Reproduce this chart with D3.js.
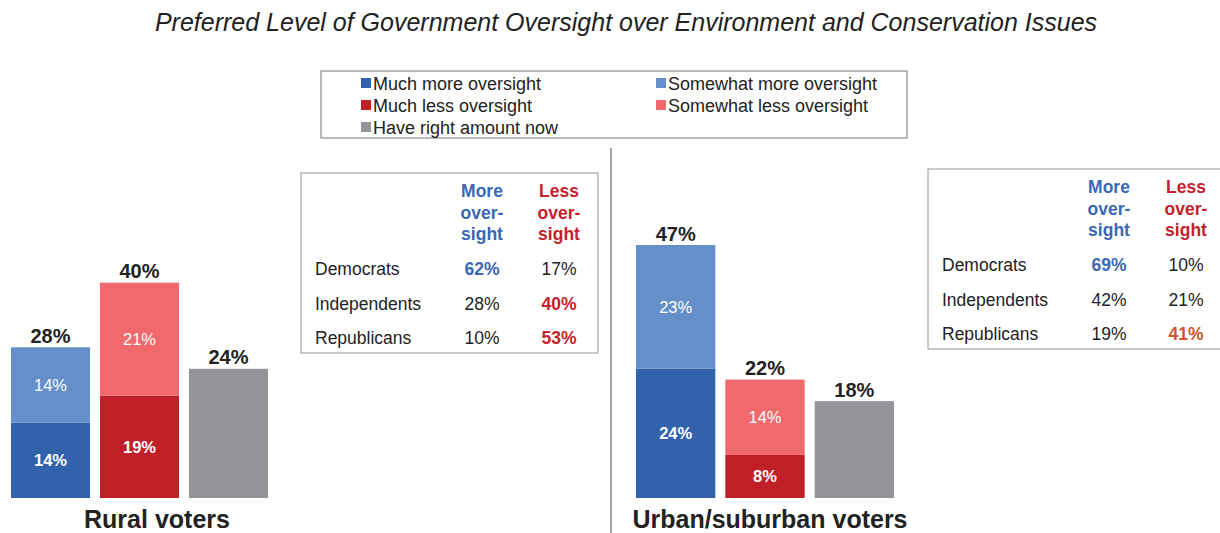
<!DOCTYPE html>
<html>
<head>
<meta charset="utf-8">
<script src="https://cdn.jsdelivr.net/npm/d3@7"></script>
<style>
  body { margin: 0; background: #fff; }
  svg { display: block; font-family: "Liberation Sans", Arial, sans-serif; }
</style>
</head>
<body>
<div class="chart-holder"></div>
<script>
// chart data
const groups = ["Rural voters", "Urban/suburban voters"];
const muchMore = [14, 24];
const someMore = [14, 23];
const muchLess = [19, 8];
const someLess = [21, 14];
const rightAmount = [24, 18];

const legendLabels = ["Much more oversight", "Somewhat more oversight", "Much less oversight",
  "Somewhat less oversight", "Have right amount now"];

const parties = ["Democrats", "Independents", "Republicans"];
const ruralMore = [62, 28, 10];
const ruralLess = [17, 40, 53];
const urbanMore = [69, 42, 19];
const urbanLess = [10, 21, 41];
// which cells are highlighted: "b" blue, "r" red, "o" orange
const ruralMark = [["b", ""], ["", "r"], ["", "r"]];
const urbanMark = [["b", ""], ["", ""], ["", "o"]];

function controller() {
  const width = 1220;
  const height = 533;

  const colors = {
    muchMore: "#3362ad",
    someMore: "#658fc8",
    muchLess: "#c01f27",
    someLess: "#f1696c",
    right: "#939598"
  };
  const legendColors = [colors.muchMore, colors.someMore, colors.muchLess, colors.someLess, colors.right];
  const markColor = { b: "#3a68b5", r: "#c4222c", o: "#d0532c" };

  const svg = d3.select(".chart-holder")
    .append("svg")
    .attr("width", width)
    .attr("height", height);

  // title
  svg.append("text")
    .attr("x", 626)
    .attr("y", 31)
    .attr("text-anchor", "middle")
    .style("font-style", "italic")
    .style("font-size", "25px")
    .attr("fill", "#222")
    .text("Preferred Level of Government Oversight over Environment and Conservation Issues");

  // legend
  const legend = svg.append("g").attr("transform", "translate(321,71)");
  legend.append("rect")
    .attr("width", 586).attr("height", 67)
    .attr("fill", "none").attr("stroke", "#8c8c8c").attr("stroke-width", 1.2);
  legendLabels.forEach((lab, i) => {
    const col = i % 2, row = Math.floor(i / 2);
    const gx = col === 0 ? 40 : 335;
    const gy = 12 + row * 22;
    legend.append("rect")
      .attr("x", gx).attr("y", gy - 5)
      .attr("width", 10).attr("height", 10)
      .attr("fill", legendColors[i]);
    legend.append("text")
      .attr("x", gx + 12).attr("y", gy + 6.5)
      .style("font-size", "18px").attr("fill", "#222")
      .text(lab);
  });

  // divider
  svg.append("line")
    .attr("x1", 611).attr("x2", 611)
    .attr("y1", 148).attr("y2", 533)
    .attr("stroke", "#a6a6a6").attr("stroke-width", 2);

  // shared vertical scale
  const y = d3.scaleLinear().domain([0, 47]).range([498, 245]);

  const panels = [
    { range: [11, 268], labelX: 157 },
    { range: [636, 894], labelX: 770 }
  ];

  panels.forEach((p, i) => {
    const x = d3.scaleBand()
      .domain(["more", "less", "right"])
      .range(p.range)
      .paddingInner(0.112)
      .paddingOuter(0);

    const stacks = [
      { key: "more", segs: [{ v: muchMore[i], c: colors.muchMore, bold: true }, { v: someMore[i], c: colors.someMore, bold: false }] },
      { key: "less", segs: [{ v: muchLess[i], c: colors.muchLess, bold: true }, { v: someLess[i], c: colors.someLess, bold: false }] },
      { key: "right", segs: [{ v: rightAmount[i], c: colors.right, bold: true, noLabel: true }] }
    ];

    const g = svg.append("g");
    stacks.forEach(s => {
      let base = 0;
      s.segs.forEach(seg => {
        const y0 = y(base), y1 = y(base + seg.v);
        g.append("rect")
          .attr("x", x(s.key)).attr("y", y1)
          .attr("width", x.bandwidth()).attr("height", y0 - y1)
          .attr("fill", seg.c);
        if (!seg.noLabel) {
          g.append("text")
            .attr("x", x(s.key) + x.bandwidth() / 2)
            .attr("y", (y0 + y1) / 2 + 6)
            .attr("text-anchor", "middle")
            .style("font-size", "16.5px")
            .style("font-weight", seg.bold ? "bold" : "normal")
            .attr("fill", "#fff")
            .text(seg.v + "%");
        }
        base += seg.v;
      });
      g.append("text")
        .attr("x", x(s.key) + x.bandwidth() / 2)
        .attr("y", y(base) - 4.5)
        .attr("text-anchor", "middle")
        .style("font-size", "20px")
        .style("font-weight", "bold")
        .attr("fill", "#222")
        .text(base + "%");
    });

    svg.append("text")
      .attr("x", p.labelX).attr("y", 528)
      .attr("text-anchor", "middle")
      .style("font-size", "25px")
      .style("font-weight", "bold")
      .attr("fill", "#222")
      .text(groups[i]);
  });

  // party tables
  const tables = [
    { x: 301, y: 173, more: ruralMore, less: ruralLess, mark: ruralMark },
    { x: 928, y: 169, more: urbanMore, less: urbanLess, mark: urbanMark }
  ];

  tables.forEach(t => {
    const g = svg.append("g").attr("transform", `translate(${t.x},${t.y})`);
    g.append("rect")
      .attr("width", 297).attr("height", 180)
      .attr("fill", "#fff").attr("stroke", "#a6a6a6").attr("stroke-width", 1.2);

    const heads = [
      { cx: 181, lines: ["More", "over-", "sight"], color: markColor.b },
      { cx: 258, lines: ["Less", "over-", "sight"], color: markColor.r }
    ];
    heads.forEach(h => {
      h.lines.forEach((ln, j) => {
        g.append("text")
          .attr("x", h.cx).attr("y", 24 + j * 21.5)
          .attr("text-anchor", "middle")
          .style("font-size", "17.5px").style("font-weight", "bold")
          .attr("fill", h.color)
          .text(ln);
      });
    });

    const rowY = d3.scalePoint().domain(parties).range([102, 171]);
    parties.forEach((party, r) => {
      g.append("text")
        .attr("x", 14).attr("y", rowY(party))
        .style("font-size", "17.5px").attr("fill", "#222")
        .text(party);
      [t.more[r], t.less[r]].forEach((v, c) => {
        const m = t.mark[r][c];
        g.append("text")
          .attr("x", heads[c].cx).attr("y", rowY(party))
          .attr("text-anchor", "middle")
          .style("font-size", "17.5px")
          .style("font-weight", m ? "bold" : "normal")
          .attr("fill", m ? markColor[m] : "#222")
          .text(v + "%");
      });
    });
  });
}

controller();
</script>
</body>
</html>
